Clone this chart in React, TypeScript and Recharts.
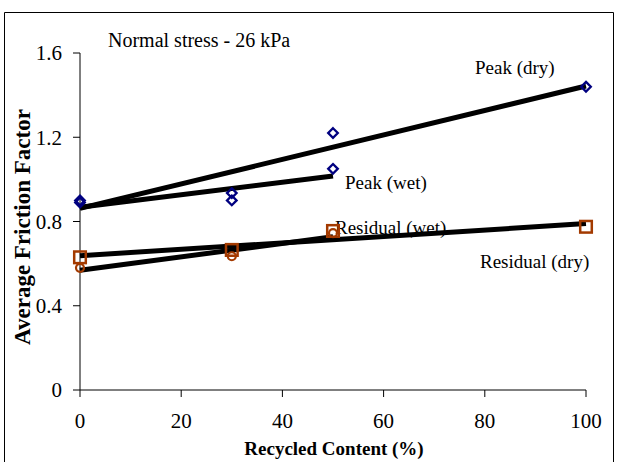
import React from 'react';
import { ComposedChart, Line, Scatter, XAxis, YAxis, Customized } from 'recharts';

const peakDryX = [0, 30, 50, 100];
const peakDryY = [0.9, 0.935, 1.22, 1.44];
const peakWetX = [0, 30, 50];
const peakWetY = [0.89, 0.9, 1.05];
const residualDryX = [0, 30, 50, 100];
const residualDryY = [0.63, 0.665, 0.755, 0.775];
const residualWetX = [0, 30, 50];
const residualWetY = [0.58, 0.635, 0.745];

const xTicks = [0, 20, 40, 60, 80, 100];
const yTicks = [0, 0.4, 0.8, 1.2, 1.6];

const FONT = '"Liberation Serif", "Times New Roman", serif';
const NAVY = '#000080';
const BROWN = '#A33A00';

type Pt = { x: number; y: number };

function toPoints(xs: number[], ys: number[]): Pt[] {
  return xs.map((x, i) => ({ x, y: ys[i] }));
}

function trend(xs: number[], ys: number[]): Pt[] {
  const n = xs.length;
  const mx = xs.reduce((a, b) => a + b, 0) / n;
  const my = ys.reduce((a, b) => a + b, 0) / n;
  let sxy = 0;
  let sxx = 0;
  for (let i = 0; i < n; i++) {
    sxy += (xs[i] - mx) * (ys[i] - my);
    sxx += (xs[i] - mx) * (xs[i] - mx);
  }
  const m = sxy / sxx;
  const b = my - m * mx;
  const x0 = Math.min(...xs);
  const x1 = Math.max(...xs);
  return [
    { x: x0, y: b + m * x0 },
    { x: x1, y: b + m * x1 },
  ];
}

const Diamond = (props: any) => {
  const { cx, cy } = props;
  const r = 4.8;
  return (
    <path
      d={`M${cx},${cy - r} L${cx + r},${cy} L${cx},${cy + r} L${cx - r},${cy} Z`}
      fill="none"
      stroke={NAVY}
      strokeWidth={2.3}
    />
  );
};

const Square = (props: any) => {
  const { cx, cy } = props;
  const r = 5.8;
  return (
    <rect x={cx - r} y={cy - r} width={2 * r} height={2 * r} fill="none" stroke={BROWN} strokeWidth={2.5} />
  );
};

const Circle = (props: any) => {
  const { cx, cy } = props;
  return <circle cx={cx} cy={cy} r={4} fill="none" stroke={BROWN} strokeWidth={2.2} />;
};

const Annotations = () => (
  <g fontFamily={FONT} fill="#000">
    <line x1={4.5} y1={470} x2={4.5} y2={12.5} stroke="#000" strokeWidth={1} />
    <line x1={4.5} y1={12.5} x2={613.5} y2={12.5} stroke="#000" strokeWidth={1} />
    <line x1={613.5} y1={12.5} x2={613.5} y2={470} stroke="#000" strokeWidth={1} />
    <text x={108} y={47} fontSize={20}>Normal stress - 26 kPa</text>
    <text x={475} y={74} fontSize={19}>Peak (dry)</text>
    <text x={345} y={189} fontSize={19}>Peak (wet)</text>
    <text x={335} y={234} fontSize={19}>Residual (wet)</text>
    <text x={480} y={268} fontSize={19}>Residual (dry)</text>
    <text x={334} y={455} fontSize={19} fontWeight="bold" textAnchor="middle">Recycled Content (%)</text>
    <text
      x={0}
      y={0}
      fontSize={23}
      fontWeight="bold"
      textAnchor="middle"
      transform="translate(30,227) rotate(-90)"
    >
      Average Friction Factor
    </text>
  </g>
);

export default function App() {
  return (
    <div style={{ position: 'absolute', left: 0, top: 0, width: 617, height: 462, background: '#fff' }}>
      <ComposedChart
        width={617}
        height={462}
        margin={{ top: 53, right: 31, bottom: 0, left: 0 }}
        style={{ fontFamily: FONT }}
      >
        <XAxis
          type="number"
          dataKey="x"
          domain={[0, 100]}
          ticks={xTicks}
          interval={0}
          height={72}
          axisLine={{ stroke: '#000', strokeWidth: 1 }}
          tickLine={{ stroke: '#000', strokeWidth: 1 }}
          tickSize={7}
          tickMargin={16}
          tick={{ fontSize: 21, fill: '#000', fontFamily: FONT }}
        />
        <YAxis
          type="number"
          dataKey="y"
          domain={[0, 1.6]}
          ticks={yTicks}
          interval={0}
          width={80}
          axisLine={{ stroke: '#000', strokeWidth: 1 }}
          tickLine={{ stroke: '#000', strokeWidth: 1 }}
          tickSize={7}
          tickMargin={11}
          tickFormatter={(v: number) => String(v)}
          tick={{ fontSize: 21, fill: '#000', fontFamily: FONT }}
        />
        <Scatter data={toPoints(peakDryX, peakDryY)} dataKey="y" shape={Diamond} isAnimationActive={false} />
        <Scatter data={toPoints(peakWetX, peakWetY)} dataKey="y" shape={Diamond} isAnimationActive={false} />
        <Scatter data={toPoints(residualDryX, residualDryY)} dataKey="y" shape={Square} isAnimationActive={false} />
        <Scatter data={toPoints(residualWetX, residualWetY)} dataKey="y" shape={Circle} isAnimationActive={false} />
        <Line data={trend(peakDryX, peakDryY)} dataKey="y" stroke="#000" strokeWidth={5} dot={false} isAnimationActive={false} />
        <Line data={trend(peakWetX, peakWetY)} dataKey="y" stroke="#000" strokeWidth={5} dot={false} isAnimationActive={false} />
        <Line data={trend(residualDryX, residualDryY)} dataKey="y" stroke="#000" strokeWidth={5} dot={false} isAnimationActive={false} />
        <Line data={trend(residualWetX, residualWetY)} dataKey="y" stroke="#000" strokeWidth={5} dot={false} isAnimationActive={false} />
        <Customized component={Annotations} />
      </ComposedChart>
    </div>
  );
}
